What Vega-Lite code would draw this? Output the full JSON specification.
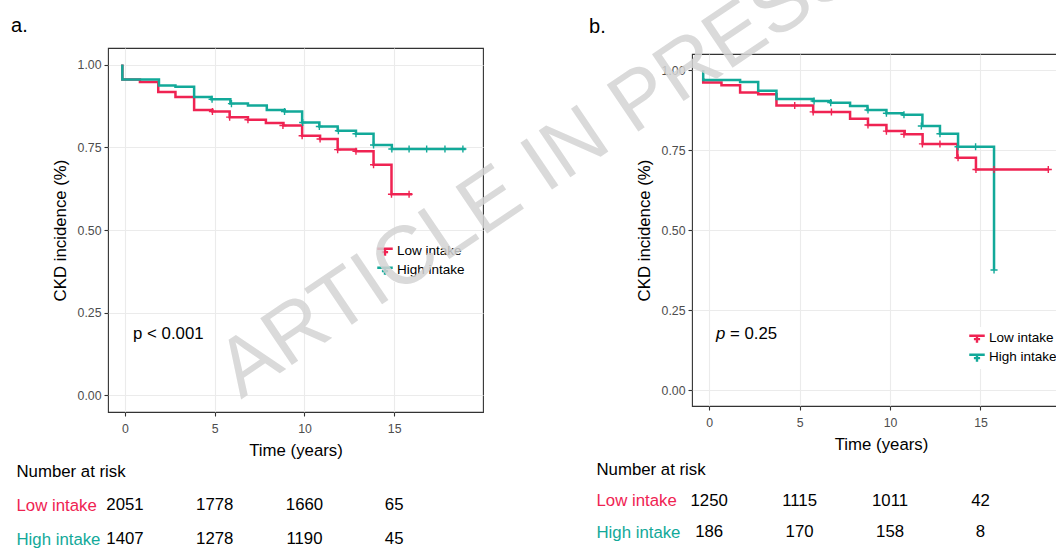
{
  "$schema": "https://vega.github.io/schema/vega-lite/v6.json",
  "background": "white",
  "padding": {"left": 10, "top": -76, "right": 0, "bottom": 0},
  "config": {
    "font": "Liberation Sans",
    "view": {"stroke": "#333333", "strokeWidth": 1.1},
    "axis": {"gridColor": "#EBEBEB", "gridWidth": 1.1, "domain": false, "tickColor": "#333333", "tickSize": 4, "tickWidth": 1.1, "labelColor": "#4D4D4D", "labelFontSize": 12.3, "labelPadding": 3, "titleFontSize": 16.8, "titleFontWeight": "normal", "titleColor": "#000000", "labelFont": "Liberation Sans", "titleFont": "Liberation Sans"},
    "legend": {"title": null, "orient": "none", "symbolType": "M-1,-0.3L1,-0.3M0,-0.3L0,0.6M-0.4,0.15L0.4,0.15", "symbolSize": 240, "symbolStrokeWidth": 2.4, "labelFontSize": 13.5, "labelColor": "#000000", "fillColor": "white", "padding": 2, "rowPadding": 0, "labelOffset": 3, "labelFont": "Liberation Sans"}
  },
  "datasets": {
    "curveA": [
      {"group": "Low intake", "t": -0.15, "s": 1.0, "i": 0},
      {"group": "Low intake", "t": -0.15, "s": 0.955, "i": 1},
      {"group": "Low intake", "t": 0.83, "s": 0.947, "i": 2},
      {"group": "Low intake", "t": 1.85, "s": 0.917, "i": 3},
      {"group": "Low intake", "t": 2.81, "s": 0.902, "i": 4},
      {"group": "Low intake", "t": 3.85, "s": 0.863, "i": 5},
      {"group": "Low intake", "t": 4.87, "s": 0.858, "i": 6},
      {"group": "Low intake", "t": 5.83, "s": 0.841, "i": 7},
      {"group": "Low intake", "t": 6.85, "s": 0.833, "i": 8},
      {"group": "Low intake", "t": 7.85, "s": 0.823, "i": 9},
      {"group": "Low intake", "t": 8.83, "s": 0.816, "i": 10},
      {"group": "Low intake", "t": 9.87, "s": 0.785, "i": 11},
      {"group": "Low intake", "t": 10.87, "s": 0.775, "i": 12},
      {"group": "Low intake", "t": 11.85, "s": 0.743, "i": 13},
      {"group": "Low intake", "t": 12.87, "s": 0.738, "i": 14},
      {"group": "Low intake", "t": 13.85, "s": 0.697, "i": 15},
      {"group": "Low intake", "t": 14.85, "s": 0.608, "i": 16},
      {"group": "Low intake", "t": 16.0, "s": 0.608, "i": 17},
      {"group": "High intake", "t": -0.15, "s": 1.0, "i": 0},
      {"group": "High intake", "t": -0.15, "s": 0.955, "i": 1},
      {"group": "High intake", "t": 1.89, "s": 0.937, "i": 2},
      {"group": "High intake", "t": 2.81, "s": 0.933, "i": 3},
      {"group": "High intake", "t": 3.85, "s": 0.902, "i": 4},
      {"group": "High intake", "t": 4.81, "s": 0.895, "i": 5},
      {"group": "High intake", "t": 5.87, "s": 0.882, "i": 6},
      {"group": "High intake", "t": 6.85, "s": 0.876, "i": 7},
      {"group": "High intake", "t": 7.9, "s": 0.863, "i": 8},
      {"group": "High intake", "t": 8.9, "s": 0.858, "i": 9},
      {"group": "High intake", "t": 9.87, "s": 0.825, "i": 10},
      {"group": "High intake", "t": 10.83, "s": 0.813, "i": 11},
      {"group": "High intake", "t": 11.85, "s": 0.8, "i": 12},
      {"group": "High intake", "t": 12.87, "s": 0.791, "i": 13},
      {"group": "High intake", "t": 13.85, "s": 0.757, "i": 14},
      {"group": "High intake", "t": 14.87, "s": 0.745, "i": 15},
      {"group": "High intake", "t": 18.98, "s": 0.745, "i": 16}
    ],
    "censorA": [
      {"group": "Low intake", "t": 4.87, "s": 0.858},
      {"group": "Low intake", "t": 5.83, "s": 0.841},
      {"group": "Low intake", "t": 6.85, "s": 0.833},
      {"group": "Low intake", "t": 8.8, "s": 0.816},
      {"group": "Low intake", "t": 9.87, "s": 0.785},
      {"group": "Low intake", "t": 10.87, "s": 0.775},
      {"group": "Low intake", "t": 11.85, "s": 0.743},
      {"group": "Low intake", "t": 12.87, "s": 0.738},
      {"group": "Low intake", "t": 13.85, "s": 0.697},
      {"group": "Low intake", "t": 14.85, "s": 0.608},
      {"group": "Low intake", "t": 15.83, "s": 0.608},
      {"group": "High intake", "t": 4.85, "s": 0.895},
      {"group": "High intake", "t": 5.93, "s": 0.882},
      {"group": "High intake", "t": 8.89, "s": 0.858},
      {"group": "High intake", "t": 9.9, "s": 0.825},
      {"group": "High intake", "t": 10.83, "s": 0.813},
      {"group": "High intake", "t": 11.89, "s": 0.8},
      {"group": "High intake", "t": 12.87, "s": 0.791},
      {"group": "High intake", "t": 13.85, "s": 0.757},
      {"group": "High intake", "t": 14.87, "s": 0.745},
      {"group": "High intake", "t": 15.83, "s": 0.745},
      {"group": "High intake", "t": 16.81, "s": 0.745},
      {"group": "High intake", "t": 17.83, "s": 0.745},
      {"group": "High intake", "t": 18.83, "s": 0.745}
    ],
    "curveB": [
      {"group": "Low intake", "t": -0.33, "s": 0.975, "i": 0},
      {"group": "Low intake", "t": -0.33, "s": 0.961, "i": 1},
      {"group": "Low intake", "t": 0.68, "s": 0.952, "i": 2},
      {"group": "Low intake", "t": 1.71, "s": 0.93, "i": 3},
      {"group": "Low intake", "t": 2.71, "s": 0.924, "i": 4},
      {"group": "Low intake", "t": 3.72, "s": 0.889, "i": 5},
      {"group": "Low intake", "t": 5.75, "s": 0.869, "i": 6},
      {"group": "Low intake", "t": 7.79, "s": 0.848, "i": 7},
      {"group": "Low intake", "t": 8.78, "s": 0.828, "i": 8},
      {"group": "Low intake", "t": 9.8, "s": 0.809, "i": 9},
      {"group": "Low intake", "t": 10.81, "s": 0.799, "i": 10},
      {"group": "Low intake", "t": 11.8, "s": 0.769, "i": 11},
      {"group": "Low intake", "t": 13.72, "s": 0.726, "i": 12},
      {"group": "Low intake", "t": 14.75, "s": 0.689, "i": 13},
      {"group": "Low intake", "t": 18.8, "s": 0.689, "i": 14},
      {"group": "High intake", "t": -0.33, "s": 1.0, "i": 0},
      {"group": "High intake", "t": -0.33, "s": 0.969, "i": 1},
      {"group": "High intake", "t": 1.71, "s": 0.9625, "i": 2},
      {"group": "High intake", "t": 2.71, "s": 0.935, "i": 3},
      {"group": "High intake", "t": 3.72, "s": 0.909, "i": 4},
      {"group": "High intake", "t": 5.75, "s": 0.903, "i": 5},
      {"group": "High intake", "t": 6.72, "s": 0.898, "i": 6},
      {"group": "High intake", "t": 7.79, "s": 0.8875, "i": 7},
      {"group": "High intake", "t": 8.75, "s": 0.875, "i": 8},
      {"group": "High intake", "t": 9.8, "s": 0.865, "i": 9},
      {"group": "High intake", "t": 10.7, "s": 0.86, "i": 10},
      {"group": "High intake", "t": 11.79, "s": 0.825, "i": 11},
      {"group": "High intake", "t": 12.76, "s": 0.801, "i": 12},
      {"group": "High intake", "t": 13.76, "s": 0.76, "i": 13},
      {"group": "High intake", "t": 15.75, "s": 0.375, "i": 14}
    ],
    "censorB": [
      {"group": "Low intake", "t": 4.73, "s": 0.889},
      {"group": "Low intake", "t": 5.75, "s": 0.869},
      {"group": "Low intake", "t": 6.76, "s": 0.869},
      {"group": "Low intake", "t": 8.78, "s": 0.828},
      {"group": "Low intake", "t": 9.8, "s": 0.809},
      {"group": "Low intake", "t": 10.77, "s": 0.799},
      {"group": "Low intake", "t": 11.79, "s": 0.769},
      {"group": "Low intake", "t": 12.76, "s": 0.769},
      {"group": "Low intake", "t": 13.76, "s": 0.726},
      {"group": "Low intake", "t": 14.75, "s": 0.689},
      {"group": "Low intake", "t": 15.75, "s": 0.689},
      {"group": "Low intake", "t": 18.75, "s": 0.689},
      {"group": "High intake", "t": 5.8, "s": 0.903},
      {"group": "High intake", "t": 6.72, "s": 0.898},
      {"group": "High intake", "t": 8.78, "s": 0.875},
      {"group": "High intake", "t": 9.8, "s": 0.865},
      {"group": "High intake", "t": 10.77, "s": 0.86},
      {"group": "High intake", "t": 11.73, "s": 0.825},
      {"group": "High intake", "t": 12.76, "s": 0.801},
      {"group": "High intake", "t": 13.76, "s": 0.76},
      {"group": "High intake", "t": 14.73, "s": 0.76},
      {"group": "High intake", "t": 15.75, "s": 0.375}
    ],
    "textA": [
      {"t": 0.45, "s": 0.186, "label": "p < 0.001", "kind": "p"},
      {"t": -6.35, "s": 1.116, "label": "a.", "kind": "letter"}
    ],
    "pB1": [{"t": 0.376, "s": 0.175, "label": "p"}],
    "pB2": [{"t": 1.15, "s": 0.175, "label": "= 0.25"}],
    "letterB": [{"t": -6.64, "s": 1.135, "label": "b."}],
    "mark": [{"t": -9.46, "s": 0.691, "label": "ARTICLE IN PRESS"}],
    "riskA": [
      {"group": "Low intake", "t": 0, "n": "2051"},
      {"group": "Low intake", "t": 5, "n": "1778"},
      {"group": "Low intake", "t": 10, "n": "1660"},
      {"group": "Low intake", "t": 15, "n": "65"},
      {"group": "High intake", "t": 0, "n": "1407"},
      {"group": "High intake", "t": 5, "n": "1278"},
      {"group": "High intake", "t": 10, "n": "1190"},
      {"group": "High intake", "t": 15, "n": "45"}
    ],
    "riskB": [
      {"group": "Low intake", "t": 0, "n": "1250"},
      {"group": "Low intake", "t": 5, "n": "1115"},
      {"group": "Low intake", "t": 10, "n": "1011"},
      {"group": "Low intake", "t": 15, "n": "42"},
      {"group": "High intake", "t": 0, "n": "186"},
      {"group": "High intake", "t": 5, "n": "170"},
      {"group": "High intake", "t": 10, "n": "158"},
      {"group": "High intake", "t": 15, "n": "8"}
    ]
  },
  "columns": 2,
  "spacing": {"row": 49, "column": 209},
  "bounds": "flush",
  "align": "each",
  "center": {"row": true, "column": false},
  "resolve": {"scale": {"color": "independent"}, "legend": {"color": "independent"}},
  "concat": [
    {
      "width": 375, "height": 364,
      "layer": [
        {
          "data": {"name": "curveA"},
          "mark": {"type": "line", "interpolate": "step-after", "strokeWidth": 2.5},
          "encoding": {
            "x": {"field": "t", "type": "quantitative", "title": "Time (years)", "scale": {"domain": [-0.95, 19.95], "nice": false, "zero": false}, "axis": {"values": [0, 5, 10, 15], "labelPadding": 6, "titlePadding": 8}},
            "y": {"field": "s", "type": "quantitative", "title": "CKD incidence (%)", "scale": {"domain": [-0.05, 1.05], "nice": false, "zero": false}, "axis": {"values": [0, 0.25, 0.5, 0.75, 1], "format": ".2f", "titlePadding": 8}},
            "color": {"field": "group", "type": "nominal", "scale": {"domain": ["Low intake", "High intake"], "range": ["#EF2352", "#12A999"]}, "legend": {"legendX": 266, "legendY": 192}},
            "order": {"field": "i", "type": "quantitative"}
          }
        },
        {
          "data": {"name": "censorA"},
          "mark": {"type": "point", "shape": "M-1,0L1,0M0,-1L0,1", "filled": false, "size": 50, "strokeWidth": 1.4, "opacity": 1},
          "encoding": {
            "x": {"field": "t", "type": "quantitative", "title": "Time (years)"},
            "y": {"field": "s", "type": "quantitative", "title": "CKD incidence (%)"},
            "color": {"field": "group", "type": "nominal"}
          }
        },
        {
          "data": {"name": "textA"},
          "mark": {"type": "text", "align": "left", "color": "#000000"},
          "encoding": {
            "x": {"field": "t", "type": "quantitative", "title": "Time (years)"},
            "y": {"field": "s", "type": "quantitative", "title": "CKD incidence (%)"},
            "text": {"field": "label", "type": "nominal"},
            "size": {"field": "kind", "type": "nominal", "scale": {"domain": ["p", "letter"], "range": [16.8, 20]}, "legend": null},
            "baseline": {"value": "middle"}
          }
        }
      ]
    },
    {
      "width": 378, "height": 352,
      "layer": [
        {
          "data": {"name": "curveB"},
          "mark": {"type": "line", "interpolate": "step-after", "strokeWidth": 2.5},
          "encoding": {
            "x": {"field": "t", "type": "quantitative", "title": "Time (years)", "scale": {"domain": [-0.95, 19.95], "nice": false, "zero": false}, "axis": {"values": [0, 5, 10, 15], "labelPadding": 6, "titlePadding": 8}},
            "y": {"field": "s", "type": "quantitative", "title": "CKD incidence (%)", "scale": {"domain": [-0.05, 1.05], "nice": false, "zero": false}, "axis": {"values": [0, 0.25, 0.5, 0.75, 1], "format": ".2f", "titlePadding": 8}},
            "color": {"field": "group", "type": "nominal", "scale": {"domain": ["Low intake", "High intake"], "range": ["#EF2352", "#12A999"]}, "legend": {"legendX": 274, "legendY": 273}},
            "order": {"field": "i", "type": "quantitative"}
          }
        },
        {
          "data": {"name": "censorB"},
          "mark": {"type": "point", "shape": "M-1,0L1,0M0,-1L0,1", "filled": false, "size": 50, "strokeWidth": 1.4, "opacity": 1},
          "encoding": {
            "x": {"field": "t", "type": "quantitative", "title": "Time (years)"},
            "y": {"field": "s", "type": "quantitative", "title": "CKD incidence (%)"},
            "color": {"field": "group", "type": "nominal"}
          }
        },
        {
          "data": {"name": "pB1"},
          "mark": {"type": "text", "align": "left", "baseline": "middle", "fontSize": 16.8, "fontStyle": "italic", "color": "#000000"},
          "encoding": {
            "x": {"field": "t", "type": "quantitative", "title": "Time (years)"},
            "y": {"field": "s", "type": "quantitative", "title": "CKD incidence (%)"},
            "text": {"field": "label", "type": "nominal"}
          }
        },
        {
          "data": {"name": "pB2"},
          "mark": {"type": "text", "align": "left", "baseline": "middle", "fontSize": 16.8, "color": "#000000"},
          "encoding": {
            "x": {"field": "t", "type": "quantitative", "title": "Time (years)"},
            "y": {"field": "s", "type": "quantitative", "title": "CKD incidence (%)"},
            "text": {"field": "label", "type": "nominal"}
          }
        },
        {
          "data": {"name": "letterB"},
          "mark": {"type": "text", "align": "left", "baseline": "middle", "fontSize": 20, "color": "#000000"},
          "encoding": {
            "x": {"field": "t", "type": "quantitative", "title": "Time (years)"},
            "y": {"field": "s", "type": "quantitative", "title": "CKD incidence (%)"},
            "text": {"field": "label", "type": "nominal"}
          }
        },
        {
          "data": {"name": "mark"},
          "mark": {"type": "text", "align": "center", "baseline": "middle", "fontSize": 82, "angle": -34, "color": "#D4D4D4", "opacity": 0.85},
          "encoding": {
            "x": {"field": "t", "type": "quantitative", "title": "Time (years)"},
            "y": {"field": "s", "type": "quantitative", "title": "CKD incidence (%)"},
            "text": {"field": "label", "type": "nominal"}
          }
        }
      ]
    },
    {
      "width": 375, "height": 85,
      "view": {"stroke": null},
      "data": {"name": "riskA"},
      "mark": {"type": "text", "fontSize": 16.8, "baseline": "middle", "align": "center", "color": "#000000"},
      "encoding": {
        "x": {"field": "t", "type": "quantitative", "scale": {"domain": [-0.95, 19.95], "nice": false, "zero": false}, "axis": null},
        "y": {"field": "group", "type": "nominal", "scale": {"type": "point", "domain": ["Number at risk", "Low intake", "High intake"], "padding": 0.2445, "align": 0.599}, "axis": {"title": null, "domain": false, "ticks": false, "tickSize": 0, "grid": false, "labelAlign": "left", "labelPadding": 92, "labelFontSize": 16.8, "labelBaseline": "middle", "labelLimit": 300, "labelColor": {"condition": [{"test": "datum.value === 'Low intake'", "value": "#EF2352"}, {"test": "datum.value === 'High intake'", "value": "#12A999"}], "value": "#000000"}}},
        "text": {"field": "n", "type": "nominal"}
      }
    },
    {
      "width": 378, "height": 85,
      "view": {"stroke": null},
      "data": {"name": "riskB"},
      "mark": {"type": "text", "fontSize": 16.8, "baseline": "middle", "align": "center", "color": "#000000"},
      "encoding": {
        "x": {"field": "t", "type": "quantitative", "scale": {"domain": [-0.95, 19.95], "nice": false, "zero": false}, "axis": null},
        "y": {"field": "group", "type": "nominal", "scale": {"type": "point", "domain": ["Number at risk", "Low intake", "High intake"], "padding": 0.349, "align": 0.364}, "axis": {"title": null, "domain": false, "ticks": false, "tickSize": 0, "grid": false, "labelAlign": "left", "labelPadding": 96, "labelFontSize": 16.8, "labelBaseline": "middle", "labelLimit": 300, "labelColor": {"condition": [{"test": "datum.value === 'Low intake'", "value": "#EF2352"}, {"test": "datum.value === 'High intake'", "value": "#12A999"}], "value": "#000000"}}},
        "text": {"field": "n", "type": "nominal"}
      }
    }
  ]
}
